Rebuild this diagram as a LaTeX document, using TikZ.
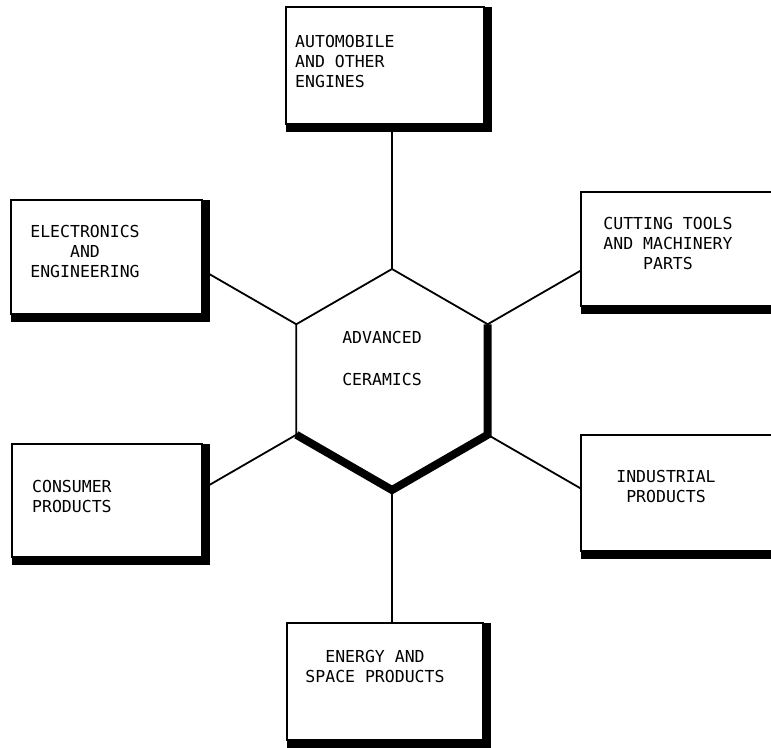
\documentclass[tikz,border=0pt]{standalone}
\usepackage{fontspec}
\setmonofont{DejaVu Sans Mono}
\usetikzlibrary{calc}

\tikzset{
  appbox/.style={draw=black, line width=1.4pt, inner sep=0pt, outer sep=0pt, anchor=north west},
  boxtext/.style={inner sep=0pt, font=\ttfamily\fontsize{16.5}{20}\selectfont},
  link/.style={draw=black, line width=1.8pt},
  hexthin/.style={draw=black, line width=1.8pt, line join=miter},
  hexthick/.style={draw=black, line width=8pt, line join=miter},
}

% heavy band along the right and bottom sides of a box
\newcommand{\bandbox}[1]{%
  \fill (#1.north east) rectangle ($(#1.south east)+(8,8)$);
  \fill (#1.south west) rectangle ($(#1.south east)+(8,8)$);
}

\begin{document}
\begin{tikzpicture}[x=1pt, y=-1pt]
\useasboundingbox (0,0) rectangle (771,747);

% application boxes
\node[appbox, minimum width=198pt, minimum height=117pt] (auto) at (286,7) {};
\node[appbox, minimum width=191pt, minimum height=114pt] (elec) at (11,200) {};
\node[appbox, minimum width=200pt, minimum height=114pt] (cut)  at (581,192) {};
\node[appbox, minimum width=190pt, minimum height=113pt] (cons) at (12,444) {};
\node[appbox, minimum width=200pt, minimum height=116pt] (ind)  at (581,435) {};
\node[appbox, minimum width=196pt, minimum height=117pt] (ener) at (287,623) {};

% hexagon corners
\coordinate (hc)  at (392,379.5);
\coordinate (hT)  at (392,269);
\coordinate (hUR) at (487.7,324.25);
\coordinate (hLR) at (487.7,434.75);
\coordinate (hB)  at (392,490);
\coordinate (hLL) at (296.3,434.75);
\coordinate (hUL) at (296.3,324.25);

% spokes from the hexagon corners to the boxes
\draw[link] (hT) -- (hT |- auto.south);
\draw[link] (hB) -- (hB |- ener.north);
\draw[link] (hUL) -- (intersection of hc--hUL and elec.north east--elec.south east);
\draw[link] (hLL) -- (intersection of hc--hLL and cons.north east--cons.south east);
\draw[link] (hUR) -- (intersection of hc--hUR and cut.north west--cut.south west);
\draw[link] (hLR) -- (intersection of hc--hLR and ind.north west--ind.south west);

% box bands
\bandbox{auto}
\bandbox{elec}
\bandbox{cut}
\bandbox{cons}
\bandbox{ind}
\bandbox{ener}

% central hexagon
\draw[hexthin] (hLL) -- (hUL) -- (hT) -- (hUR) -- (hLR);
\draw[hexthick] (hUR) -- (hLR) -- (hB) -- (hLL);

% labels
\node[boxtext, anchor=north west, align=left] (autot) at (295,35)
  {AUTOMOBILE\\AND OTHER\\ENGINES};
\node[boxtext, anchor=north, align=center] (elect) at (85,225)
  {ELECTRONICS\\AND\\ENGINEERING};
\node[boxtext, anchor=north, align=center] (cutt) at (668,217)
  {CUTTING TOOLS\\AND MACHINERY\\PARTS};
\node[boxtext, anchor=north west, align=left] (const) at (32,480)
  {CONSUMER\\PRODUCTS};
\node[boxtext, anchor=north, align=center] (indt) at (666,470)
  {INDUSTRIAL\\PRODUCTS};
\node[boxtext, anchor=north, align=center] (enert) at (375,650)
  {ENERGY AND\\SPACE PRODUCTS};
\node[boxtext, anchor=north, align=center, font=\ttfamily\fontsize{16.5}{42}\selectfont] (hext) at (382,331)
  {ADVANCED\\CERAMICS};
\end{tikzpicture}
\end{document}
